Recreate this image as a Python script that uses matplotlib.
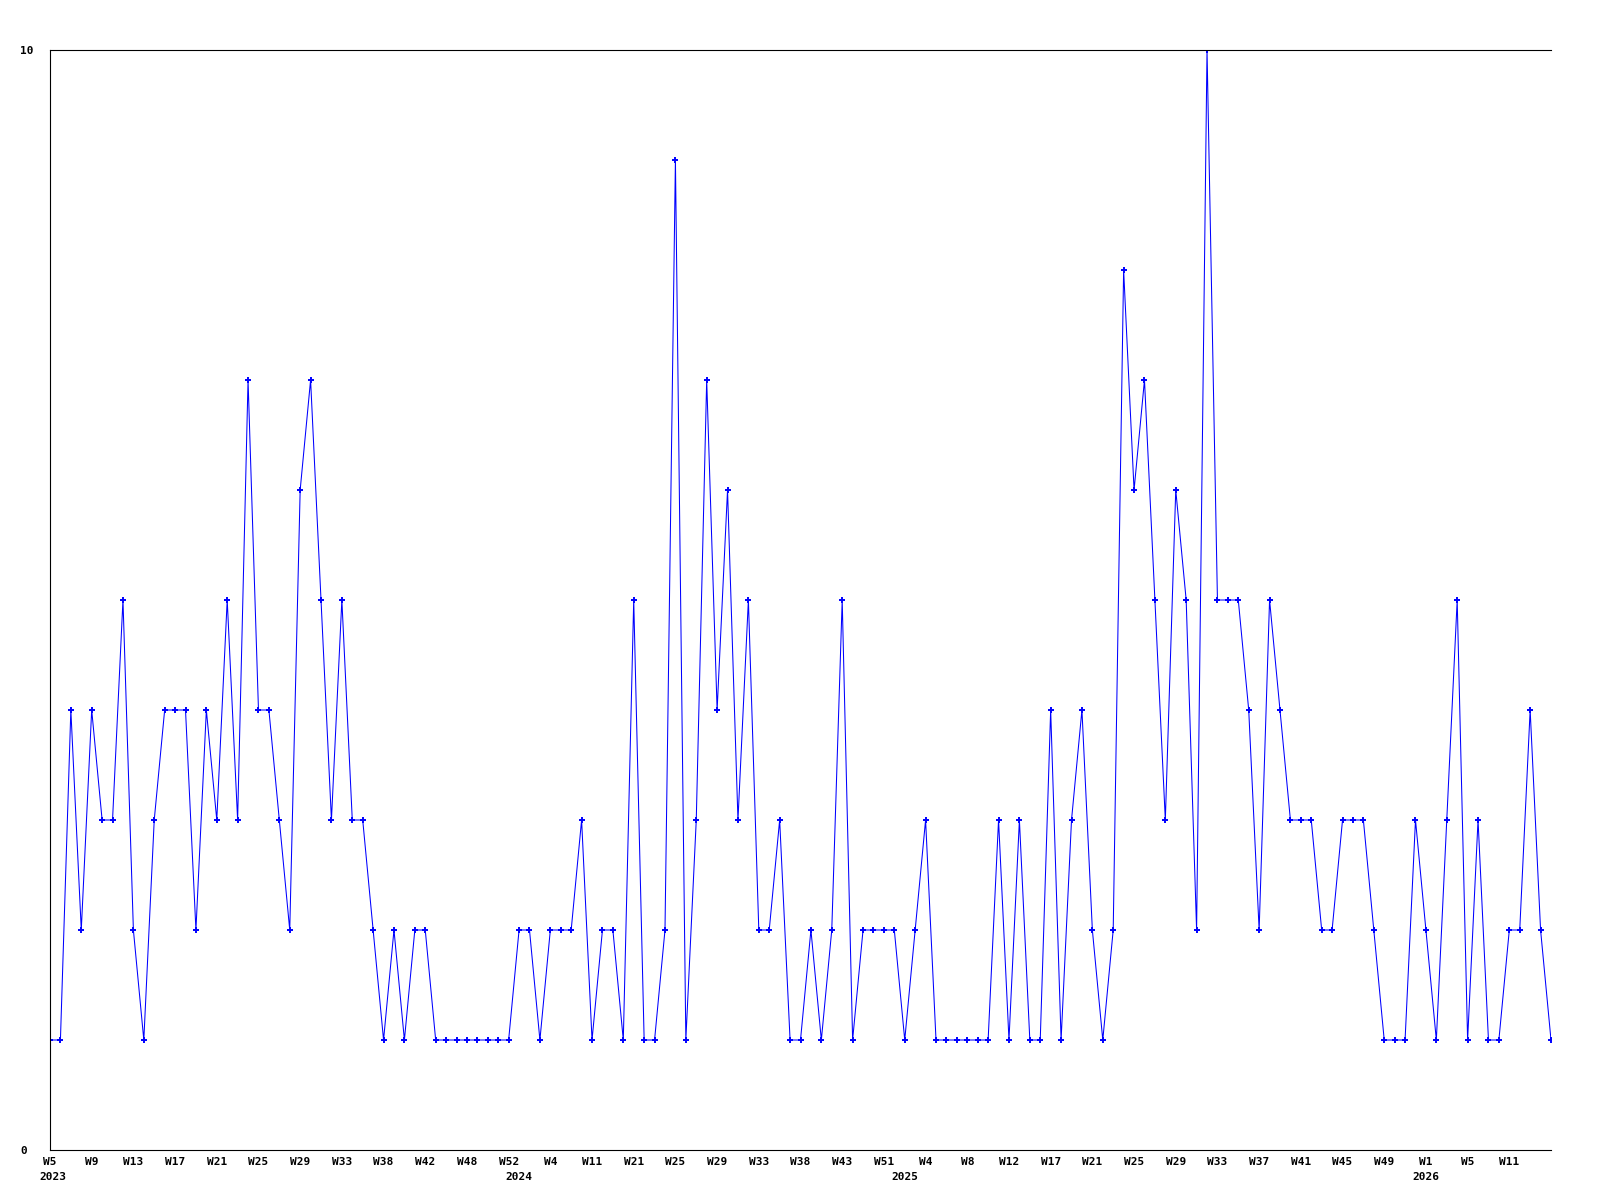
import matplotlib
matplotlib.use("Agg")
import matplotlib.pyplot as plt
import matplotlib.transforms as mtransforms

# ---- data ----
values = [
    1, 1, 4, 2, 4, 3, 3, 5, 2, 1,
    3, 4, 4, 4, 2, 4, 3, 5, 3, 7,
    4, 4, 3, 2, 6, 7, 5, 3, 5, 3,
    3, 2, 1, 2, 1, 2, 2, 1, 1, 1,
    1, 1, 1, 1, 1, 2, 2, 1, 2, 2,
    2, 3, 1, 2, 2, 1, 5, 1, 1, 2,
    9, 1, 3, 7, 4, 6, 3, 5, 2, 2,
    3, 1, 1, 2, 1, 2, 5, 1, 2, 2,
    2, 2, 1, 2, 3, 1, 1, 1, 1, 1,
    1, 3, 1, 3, 1, 1, 4, 1, 3, 4,
    2, 1, 2, 8, 6, 7, 5, 3, 6, 5,
    2, 10, 5, 5, 5, 4, 2, 5, 4, 3,
    3, 3, 2, 2, 3, 3, 3, 2, 1, 1,
    1, 3, 2, 1, 3, 5, 1, 3, 1, 1,
    2, 2, 4, 2, 1,
]

# week labels shown on every 4th data point
week_tick_labels = [
    "W5", "W9", "W13", "W17", "W21", "W25", "W29", "W33", "W38", "W42",
    "W48", "W52", "W4", "W11", "W21", "W25", "W29", "W33", "W38", "W43",
    "W51", "W4", "W8", "W12", "W17", "W21", "W25", "W29", "W33", "W37",
    "W41", "W45", "W49", "W1", "W5", "W11",
]
week_tick_step = 4

# years and index of the first data point of each year
years = ["2023", "2024", "2025", "2026"]
year_start_index = [0, 45, 82, 132]

y_ticks = [0, 10]

# ---- figure ----
W, H = 1600, 1200
fig = plt.figure(figsize=(16, 12), dpi=100)
ax = fig.add_axes([50 / W, 50 / H, 1501 / W, 1100 / H])

x = list(range(len(values)))
ax.plot(x, values, color="#0000ff", linewidth=0.75,
        marker="+", markersize=4, markeredgewidth=1.4,
        markeredgecolor="#0000ff", solid_joinstyle="miter")

ax.set_xlim(0, len(values) - 1)
ax.set_ylim(0, 10)

font = dict(family="DejaVu Sans Mono", weight="bold", size=8)

tick_pos = [i * week_tick_step for i in range(len(week_tick_labels))]
ax.set_xticks(tick_pos)
ax.set_xticklabels(week_tick_labels, fontdict=font)
ax.set_yticks(y_ticks)
ax.set_yticklabels([str(v) for v in y_ticks], fontdict=font, ha="left")

ax.tick_params(axis="x", length=0, pad=5.2)
ax.tick_params(axis="y", length=0, pad=21.6)

for s in ["top", "left", "bottom"]:
    ax.spines[s].set_linewidth(0.8)
    ax.spines[s].set_color("black")
ax.spines["right"].set_visible(False)

# year labels below week labels
trans = mtransforms.blended_transform_factory(ax.transData, ax.transAxes)
for yr, idx in zip(years, year_start_index):
    ax.text(idx + (0.3 if idx == 0 else 0), -27 / 1100, yr, transform=trans,
            ha="center", va="center", **font)

fig.savefig("out.png", dpi=100, facecolor="white")
